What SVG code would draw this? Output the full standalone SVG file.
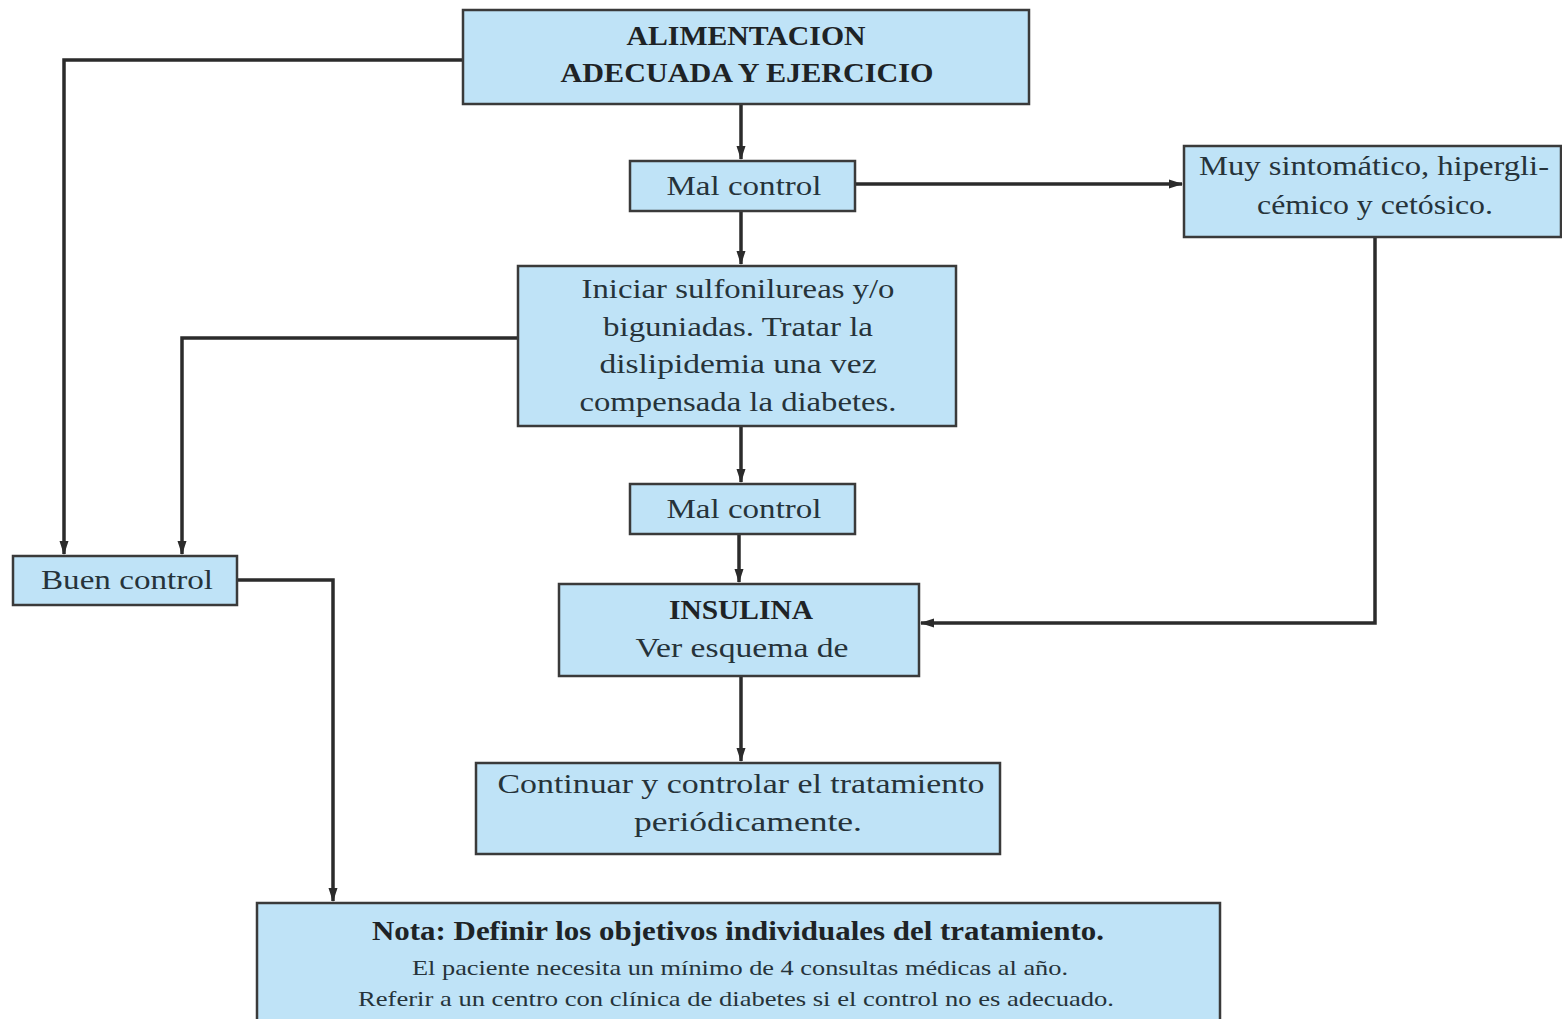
<svg xmlns="http://www.w3.org/2000/svg" width="1562" height="1019" viewBox="0 0 1562 1019">
<defs>
<marker id="arr" markerWidth="14" markerHeight="12" refX="13" refY="6" orient="auto" markerUnits="userSpaceOnUse"><path d="M0,1.5 L14,6 L0,10.5 Z" fill="#2b2b2b"/></marker>
<style>
.box{fill:#bfe3f7;stroke:#3a3a3a;stroke-width:2.5}
.t{font-family:"Liberation Serif",serif;fill:#26333a;text-anchor:middle}
.b{font-weight:bold;fill:#1e2326}
.c{fill:none;stroke:#2b2b2b;stroke-width:3.5;marker-end:url(#arr)}
</style>
</defs>
<rect width="1562" height="1019" fill="#ffffff"/>
<g id="connectors">
<path class="c" d="M463,60 H64 V554"/>
<path class="c" d="M741,104 V159"/>
<path class="c" d="M855,184 H1182"/>
<path class="c" d="M741,211 V264"/>
<path class="c" d="M518,338 H182 V554"/>
<path class="c" d="M741,426 V482"/>
<path class="c" d="M739,534 V582"/>
<path class="c" d="M1375,237 V623 H921"/>
<path class="c" d="M237,580 H333 V901"/>
<path class="c" d="M741,676 V761"/>
</g>
<g id="n1"><rect class="box" x="463" y="10" width="566" height="94"/>
<text class="t b" x="746" y="45" font-size="27" textLength="239" lengthAdjust="spacingAndGlyphs">ALIMENTACION</text>
<text class="t b" x="747" y="82" font-size="27" textLength="373" lengthAdjust="spacingAndGlyphs">ADECUADA Y EJERCICIO</text></g>
<g id="n2"><rect class="box" x="630" y="161" width="225" height="50"/>
<text class="t" x="744" y="195" font-size="28" textLength="155" lengthAdjust="spacingAndGlyphs">Mal control</text></g>
<g id="n3"><rect class="box" x="1184" y="146" width="377" height="91"/>
<text class="t" x="1374" y="175" font-size="28" textLength="350" lengthAdjust="spacingAndGlyphs">Muy sintomático, hipergli-</text>
<text class="t" x="1375" y="214" font-size="28" textLength="236" lengthAdjust="spacingAndGlyphs">cémico y cetósico.</text></g>
<g id="n4"><rect class="box" x="518" y="266" width="438" height="160"/>
<text class="t" x="738" y="298" font-size="28" textLength="313" lengthAdjust="spacingAndGlyphs">Iniciar sulfonilureas y/o</text>
<text class="t" x="738" y="336" font-size="28" textLength="270" lengthAdjust="spacingAndGlyphs">biguniadas. Tratar la</text>
<text class="t" x="738" y="373" font-size="28" textLength="277" lengthAdjust="spacingAndGlyphs">dislipidemia una vez</text>
<text class="t" x="738" y="411" font-size="28" textLength="317" lengthAdjust="spacingAndGlyphs">compensada la diabetes.</text></g>
<g id="n5"><rect class="box" x="630" y="484" width="225" height="50"/>
<text class="t" x="744" y="518" font-size="28" textLength="155" lengthAdjust="spacingAndGlyphs">Mal control</text></g>
<g id="n6"><rect class="box" x="13" y="556" width="224" height="49"/>
<text class="t" x="127" y="589" font-size="28" textLength="172" lengthAdjust="spacingAndGlyphs">Buen control</text></g>
<g id="n7"><rect class="box" x="559" y="584" width="360" height="92"/>
<text class="t b" x="741" y="619" font-size="27" textLength="144" lengthAdjust="spacingAndGlyphs">INSULINA</text>
<text class="t" x="742" y="657" font-size="28" textLength="213" lengthAdjust="spacingAndGlyphs">Ver esquema de</text></g>
<g id="n8"><rect class="box" x="476" y="763" width="524" height="91"/>
<text class="t" x="741" y="793" font-size="28" textLength="487" lengthAdjust="spacingAndGlyphs">Continuar y controlar el tratamiento</text>
<text class="t" x="748" y="831" font-size="28" textLength="228" lengthAdjust="spacingAndGlyphs">periódicamente.</text></g>
<g id="n9"><rect class="box" x="257" y="903" width="963" height="120"/>
<text class="t b" x="738" y="940" font-size="27" textLength="732" lengthAdjust="spacingAndGlyphs">Nota: Definir los objetivos individuales del tratamiento.</text>
<text class="t" x="740" y="975" font-size="21" textLength="656" lengthAdjust="spacingAndGlyphs">El paciente necesita un mínimo de 4 consultas médicas al año.</text>
<text class="t" x="736" y="1006" font-size="21" textLength="756" lengthAdjust="spacingAndGlyphs">Referir a un centro con clínica de diabetes si el control no es adecuado.</text></g>
</svg>
